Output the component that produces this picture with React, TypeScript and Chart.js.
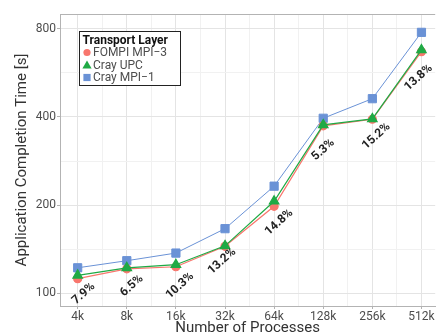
import React, { useEffect, useRef } from "react";
import { Chart, registerables } from "chart.js";

Chart.register(...registerables);

const categories = ["4k", "8k", "16k", "32k", "64k", "128k", "256k", "512k"];
const fompiMpi3 = [112, 121, 123, 144.5, 198, 373, 393, 669];
const crayUpc = [115, 122, 125, 145, 206, 376, 394, 678];
const crayMpi1 = [122, 129, 137, 166, 232, 396, 462, 779];
const improvementLabels = ["7.9%", "6.5%", "10.3%", "13.2%", "14.8%", "5.3%", "15.2%", "13.8%"];
const yMajorTicks = [100, 200, 400, 800];

const FONT = "Roboto, 'Noto Sans', sans-serif";
const RED = "#F8766D";
const GREEN = "#1FAA45";
const BLUE = "#6A92D6";

// pixel nudges of the percentage labels relative to the FOMPI points
const labelNudges = [
  [6, 15], [5, 17], [4, 19], [-3, 15], [5, 16], [0, 24], [4, 17], [-3, 26],
];

const labelPlugin = {
  id: "pctLabels",
  afterDraw(chart: any) {
    const meta = chart.getDatasetMeta(1);
    const ctx: CanvasRenderingContext2D = chart.ctx;
    const ang = (42 * Math.PI) / 180;
    const c = Math.cos(ang);
    const s = Math.sin(ang);
    meta.data.forEach((pt: any, i: number) => {
      const [dx, dy] = labelNudges[i];
      ctx.save();
      ctx.setTransform(c, -s, s, c, pt.x + dx, pt.y + dy);
      ctx.font = `bold 12px ${FONT}`;
      ctx.fillStyle = "#222222";
      ctx.textAlign = "center";
      ctx.textBaseline = "middle";
      ctx.fillText(improvementLabels[i], 0, 0);
      ctx.restore();
    });
  },
};

const framePlugin = {
  id: "frameAndLegend",
  afterDraw(chart: any) {
    const ctx = chart.ctx;
    const a = chart.chartArea;
    ctx.save();
    ctx.strokeStyle = "#B3B3B3";
    ctx.lineWidth = 1;
    ctx.beginPath();
    ctx.moveTo(a.left, a.top + 0.5);
    ctx.lineTo(a.right, a.top + 0.5);
    ctx.stroke();

    const lx = a.left + 19.5;
    const ly = a.top + 17.5;
    const lw = 101;
    const lh = 54;
    ctx.fillStyle = "#FFFFFF";
    ctx.fillRect(lx, ly, lw, lh);
    ctx.strokeStyle = "#222222";
    ctx.strokeRect(lx, ly, lw, lh);
    ctx.textAlign = "left";
    ctx.textBaseline = "alphabetic";
    ctx.fillStyle = "#111111";
    ctx.font = `bold 12px ${FONT}`;
    ctx.fillText("Transport Layer", lx + 3, ly + 12);
    const items = [
      { label: "FOMPI MPI\u22123", color: RED, shape: "circle" },
      { label: "Cray UPC", color: GREEN, shape: "triangle" },
      { label: "Cray MPI\u22121", color: BLUE, shape: "square" },
    ];
    ctx.font = `12px ${FONT}`;
    items.forEach((it, i) => {
      const cy = ly + 21 + i * 12.5;
      const cx = lx + 7.5;
      ctx.fillStyle = it.color;
      ctx.beginPath();
      if (it.shape === "circle") {
        ctx.arc(cx, cy, 3.6, 0, Math.PI * 2);
        ctx.fill();
      } else if (it.shape === "triangle") {
        ctx.moveTo(cx, cy - 4.5);
        ctx.lineTo(cx + 4.6, cy + 3.5);
        ctx.lineTo(cx - 4.6, cy + 3.5);
        ctx.closePath();
        ctx.fill();
      } else {
        ctx.fillRect(cx - 3.6, cy - 3.6, 7.2, 7.2);
      }
      ctx.fillStyle = "#4D4D4D";
      ctx.textBaseline = "middle";
      ctx.fillText(it.label, lx + 13.5, cy + 0.5);
    });
    ctx.restore();
  },
};

export default function App() {
  const ref = useRef<HTMLCanvasElement | null>(null);

  useEffect(() => {
    document.body.style.margin = "0";
    const canvas = ref.current!;
    const minorY = [141.42, 282.84, 565.69];
    const chart = new Chart(canvas, {
      type: "line",
      data: {
        datasets: [
          {
            label: "Cray UPC",
            data: crayUpc.map((v, i) => ({ x: i, y: v })),
            borderColor: GREEN,
            backgroundColor: GREEN,
            pointStyle: "triangle",
            pointRadius: 5.5,
            borderWidth: 1.2,
            order: 0,
          },
          {
            label: "FOMPI MPI-3",
            data: fompiMpi3.map((v, i) => ({ x: i, y: v })),
            borderColor: RED,
            backgroundColor: RED,
            pointStyle: "circle",
            pointRadius: 4,
            borderWidth: 1.2,
            order: 1,
          },
          {
            label: "Cray MPI-1",
            data: crayMpi1.map((v, i) => ({ x: i, y: v })),
            borderColor: BLUE,
            backgroundColor: BLUE,
            pointStyle: "rect",
            pointRadius: 5.8,
            borderWidth: 1,
            order: 2,
          },
        ],
      },
      options: {
        responsive: false,
        animation: false,
        layout: { padding: { top: 14, right: 0, left: 0, bottom: 0 } },
        plugins: { legend: { display: false }, tooltip: { enabled: false } },
        elements: { point: { borderWidth: 0 }, line: { tension: 0 } },
        scales: {
          x: {
            type: "linear",
            min: -0.36,
            max: 7.28,
            afterBuildTicks: (s: any) => {
              const t = [];
              for (let v = 0; v <= 7; v += 0.5) t.push({ value: v });
              s.ticks = t;
            },
            afterFit: (s: any) => {
              s.height = 29;
            },
            ticks: {
              autoSkip: false,
              maxRotation: 0,
              padding: 1,
              color: "#4D4D4D",
              font: { family: FONT, size: 12 },
              callback: (v: any) => (Number.isInteger(v) ? categories[v] : ""),
            },
            grid: {
              color: (c: any) => (Number.isInteger(c.tick?.value) ? "#E4E4E4" : "#F1F1F1"),
              tickColor: (c: any) => (Number.isInteger(c.tick?.value) ? "#B3B3B3" : "rgba(0,0,0,0)"),
              tickLength: 3,
              lineWidth: 1,
            },
            border: { color: "#B3B3B3", width: 1 },
            title: {
              display: true,
              text: "Number of Processes",
              color: "#333333",
              font: { family: FONT, size: 15 },
              padding: { top: 0, bottom: -2 },
            },
          },
          y: {
            type: "logarithmic",
            min: 90.3,
            max: 900,
            afterBuildTicks: (s: any) => {
              s.ticks = [...yMajorTicks, ...minorY].sort((a, b) => a - b).map((v) => ({ value: v }));
            },
            afterFit: (s: any) => {
              s.width = 60;
            },
            ticks: {
              autoSkip: false,
              padding: 1,
              color: "#4D4D4D",
              font: { family: FONT, size: 12 },
              callback: (v: any) => (yMajorTicks.includes(v) ? String(v) : ""),
            },
            grid: {
              color: (c: any) => (yMajorTicks.includes(c.tick?.value) ? "#E4E4E4" : "#F1F1F1"),
              tickColor: (c: any) => (yMajorTicks.includes(c.tick?.value) ? "#B3B3B3" : "rgba(0,0,0,0)"),
              tickLength: 3,
              lineWidth: 1,
            },
            border: { color: "#B3B3B3", width: 1 },
            title: {
              display: true,
              text: "Application Completion Time [s]",
              color: "#333333",
              font: { family: FONT, size: 15 },
              padding: { top: 13, bottom: 0 },
            },
          },
        },
      },
      plugins: [labelPlugin, framePlugin],
    });
    return () => chart.destroy();
  }, []);

  return (
    <canvas
      ref={ref}
      width={442}
      height={335}
      style={{ display: "block", width: 442, height: 335 }}
    />
  );
}
